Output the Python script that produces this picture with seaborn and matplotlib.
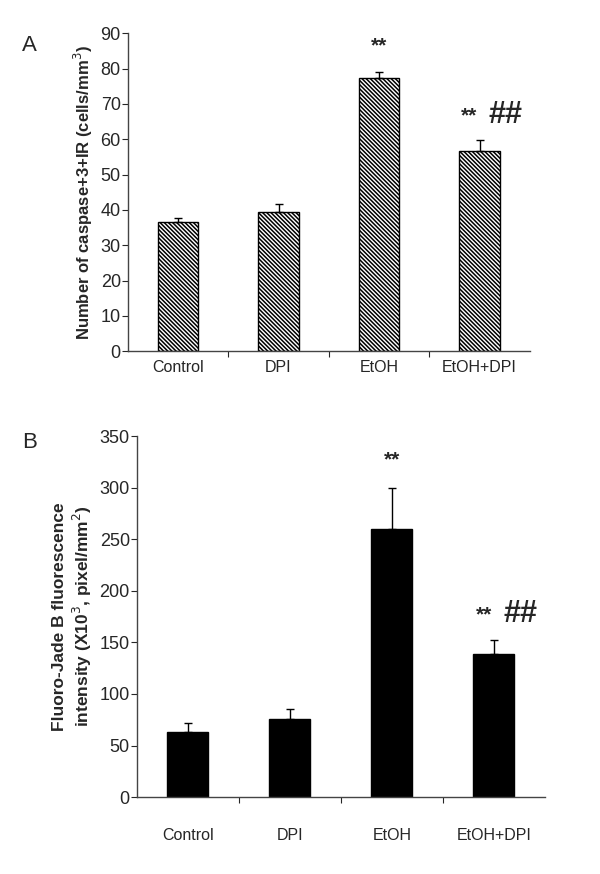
import matplotlib
matplotlib.use("Agg")
import matplotlib.pyplot as plt
import seaborn as sns
import numpy as np
import pandas as pd

# data
groups = ['Control', 'DPI', 'EtOH', 'EtOH+DPI']
caspase_mean = [36.7, 39.3, 77.3, 56.8]
caspase_sem = [1.0, 2.3, 1.8, 3.0]
fjb_mean = [63, 76, 260, 139]
fjb_sem = [9, 9, 40, 13]
marks_a = ['', '', '**', '** ##']
marks_b = ['', '', '**', '** ##']

sns.set_theme(style='white')
plt.rcParams['font.family'] = ['Liberation Sans', 'DejaVu Sans']
plt.rcParams['hatch.linewidth'] = 1.1

fig = plt.figure(figsize=(6, 8.74), dpi=100)
ax_a = fig.add_axes([0.213, 0.598, 0.67, 0.364])
ax_b = fig.add_axes([0.228, 0.088, 0.68, 0.413])


def draw_panel(ax, means, sems, marks, ymax, step, ylabel, hatch, face, xpad, lsize):
    df = pd.DataFrame({'group': groups, 'value': means})
    sns.barplot(data=df, x='group', y='value', ax=ax, color=face,
                width=0.4, edgecolor='black', linewidth=1.0, errorbar=None)
    for p in ax.patches:
        p.set_facecolor(face)
        p.set_hatch(hatch)
    ax.errorbar(range(len(groups)), means, yerr=[np.zeros(len(sems)), sems],
                fmt='none', ecolor='black', elinewidth=1.0, capsize=3, capthick=1.0)
    ax.set_ylim(0, ymax)
    ax.set_xlim(-0.5, len(groups) - 0.5)
    ax.set_yticks(np.arange(0, ymax + 1, step))
    ax.set_xlabel('')
    ax.set_ylabel(ylabel, fontsize=lsize, fontweight='bold', labelpad=4)
    ax.tick_params(axis='y', labelsize=13, length=4, width=0.8, left=True, direction='out', pad=1)
    ax.tick_params(axis='x', labelsize=11.5, length=0, pad=xpad)
    # small tick marks between categories
    ax.set_xticks(np.arange(0.5, len(groups) - 0.5), minor=True)
    ax.tick_params(axis='x', which='minor', length=4, width=0.8, bottom=True, direction='out')
    sns.despine(ax=ax)
    for s in ['left', 'bottom']:
        ax.spines[s].set_color('#444444')
        ax.spines[s].set_linewidth(1.0)
    for i, m in enumerate(marks):
        if not m:
            continue
        top = means[i] + sems[i] + ymax * 0.03
        if '##' in m:
            ax.text(i - 0.1, top + ymax * 0.015, '**', ha='center', va='bottom', fontsize=15, fontweight='bold')
            ax.text(i + 0.26, top + ymax * 0.0, '##', ha='center', va='bottom', fontsize=22, fontweight='bold')
        else:
            ax.text(i, top + ymax * 0.02, m, ha='center', va='bottom', fontsize=15, fontweight='bold')


draw_panel(ax_a, caspase_mean, caspase_sem, marks_a, 90, 10,
           'Number of caspase+3+IR (cells/mm$^3$)', '\\\\\\\\\\\\\\\\', 'white', 6, 12)
draw_panel(ax_b, fjb_mean, fjb_sem, marks_b, 350, 50,
           'Fluoro-Jade B fluorescence\nintensity (X10$^3$, pixel/mm$^2$)', '', 'black', 22, 12.5)

fig.text(0.037, 0.942, 'A', fontsize=16)
fig.text(0.037, 0.487, 'B', fontsize=16)

fig.savefig('out.png', dpi=100)
